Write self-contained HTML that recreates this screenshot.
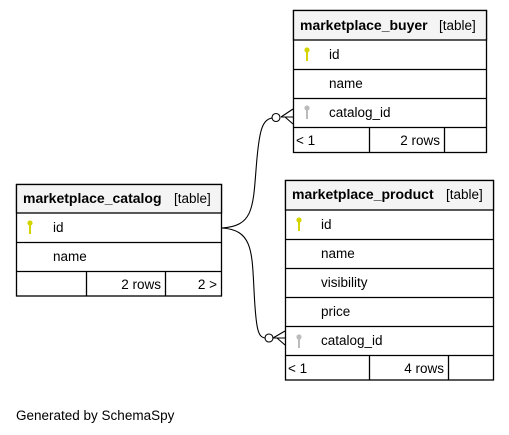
<!DOCTYPE html>
<html><head><meta charset="utf-8"><style>
body{margin:0;background:#fff}
svg{display:block;font-family:"Liberation Sans",Arial,sans-serif}
.b{font-weight:bold;font-size:14px}
.t{font-size:13.5px}
</style></head><body>
<svg width="509" height="435" viewBox="0 0 509 435">
<defs>
<g id="key"><circle cx="0" cy="-4" r="2.6"/><rect x="-1" y="-3" width="2" height="10"/></g>
</defs>
<g stroke="#000" stroke-width="1.3" fill="none">
<!-- buyer -->
<rect x="293.5" y="10.5" width="193" height="142" fill="#fff"/>
<rect x="293.5" y="10.5" width="193" height="29.5" fill="#f4f4f4"/>
<line x1="293" y1="69.5" x2="487" y2="69.5"/><line x1="293" y1="98.5" x2="487" y2="98.5"/><line x1="293" y1="127.5" x2="487" y2="127.5"/>
<line x1="369.5" y1="127" x2="369.5" y2="152"/><line x1="444.5" y1="127" x2="444.5" y2="152"/>
<!-- catalog -->
<rect x="16.5" y="184.5" width="205" height="111.5" fill="#fff"/>
<rect x="16.5" y="184.5" width="205" height="28.5" fill="#f4f4f4"/>
<line x1="16" y1="242.5" x2="222" y2="242.5"/><line x1="16" y1="271.5" x2="222" y2="271.5"/>
<line x1="86.5" y1="271" x2="86.5" y2="296"/><line x1="165.5" y1="271" x2="165.5" y2="296"/>
<!-- product -->
<rect x="285.5" y="180.5" width="208" height="199.5" fill="#fff"/>
<rect x="285.5" y="180.5" width="208" height="29.5" fill="#f4f4f4"/>
<line x1="285" y1="239.5" x2="494" y2="239.5"/><line x1="285" y1="268.5" x2="494" y2="268.5"/><line x1="285" y1="297.5" x2="494" y2="297.5"/><line x1="285" y1="326.5" x2="494" y2="326.5"/><line x1="285" y1="355.5" x2="494" y2="355.5"/>
<line x1="369.5" y1="355" x2="369.5" y2="380"/><line x1="448.5" y1="355" x2="448.5" y2="380"/>
</g>
<g stroke="#000" stroke-width="1.1" fill="none">
<path d="M222 228 C 252 226, 253 210, 256 170 C 259 130, 262 120, 272 118"/>
<path d="M222 228 C 252 230, 252 250, 254 290 C 256 330, 258 337, 265 338"/>
<path d="M281 117 L293 109 M281 117 L293 117 M285 117 L293 124"/>
<path d="M273 338 L285 331 M273 338 L285 338 M277 338 L285 345"/>
</g>
<circle cx="276" cy="117.5" r="4" fill="#fff" stroke="#000" stroke-width="1.1"/>
<circle cx="269" cy="338" r="4" fill="#fff" stroke="#000" stroke-width="1.1"/>
<g fill="#d4d400"><use href="#key" x="307" y="54"/><use href="#key" x="30" y="227"/><use href="#key" x="299" y="224"/></g>
<g fill="#bbb"><use href="#key" x="307" y="112"/><use href="#key" x="299" y="341"/></g>
<g fill="#000">
<text x="300" y="30" class="b">marketplace_buyer</text><text x="439" y="30" class="t">[table]</text>
<text x="329" y="59" class="t">id</text><text x="329" y="88" class="t">name</text><text x="329" y="117" class="t">catalog_id</text>
<text x="296" y="145" class="t">&lt; 1</text><text x="440" y="145" class="t" text-anchor="end">2 rows</text>
<text x="23" y="203" class="b">marketplace_catalog</text><text x="174" y="203" class="t">[table]</text>
<text x="53" y="232" class="t">id</text><text x="53" y="261" class="t">name</text>
<text x="161" y="289" class="t" text-anchor="end">2 rows</text><text x="217" y="289" class="t" text-anchor="end">2 &gt;</text>
<text x="292" y="199" class="b">marketplace_product</text><text x="446" y="199" class="t">[table]</text>
<text x="321" y="229" class="t">id</text><text x="321" y="258" class="t">name</text><text x="321" y="287" class="t">visibility</text><text x="321" y="316" class="t">price</text><text x="321" y="345" class="t">catalog_id</text>
<text x="288" y="373" class="t">&lt; 1</text><text x="444" y="373" class="t" text-anchor="end">4 rows</text>
<text x="16" y="420" class="t">Generated by SchemaSpy</text>
</g>
</svg>
</body></html>
